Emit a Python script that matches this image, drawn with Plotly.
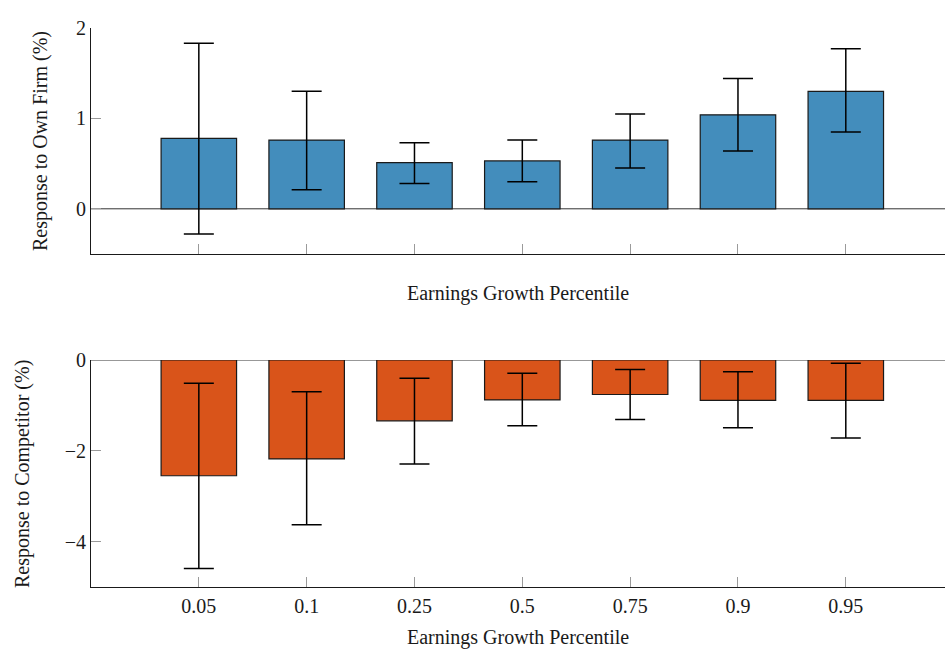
import plotly.graph_objects as go
from plotly.subplots import make_subplots

percentiles = ["0.05", "0.1", "0.25", "0.5", "0.75", "0.9", "0.95"]

own_firm = [0.78, 0.76, 0.51, 0.53, 0.76, 1.04, 1.30]
own_firm_hi = [1.83, 1.30, 0.73, 0.76, 1.05, 1.44, 1.77]
own_firm_lo = [-0.28, 0.21, 0.28, 0.30, 0.45, 0.64, 0.85]

competitor = [-2.55, -2.18, -1.34, -0.88, -0.76, -0.89, -0.89]
competitor_hi = [-0.51, -0.70, -0.40, -0.29, -0.21, -0.26, -0.07]
competitor_lo = [-4.59, -3.63, -2.29, -1.45, -1.31, -1.49, -1.72]

BLUE = "#438dbc"
ORANGE = "#d9541a"
FONT = "Liberation Serif"

W, H = 945, 653
L, R, T, B = 91, 0, 28, 66
plot_h = H - T - B


def py(pix):
    # pixel row -> paper fraction
    return (H - B - pix) / plot_h


fig = make_subplots(rows=2, cols=1, vertical_spacing=0.0)


def add_panel(row, vals, hi, lo, color):
    fig.add_trace(
        go.Bar(
            x=percentiles,
            y=vals,
            width=0.7,
            marker=dict(color=color, line=dict(color="#1a1a1a", width=1.2)),
            error_y=dict(
                type="data",
                symmetric=False,
                array=[h - v for h, v in zip(hi, vals)],
                arrayminus=[v - l for v, l in zip(vals, lo)],
                color="black",
                thickness=1.5,
                width=15,
            ),
            showlegend=False,
        ),
        row=row,
        col=1,
    )


add_panel(1, own_firm, own_firm_hi, own_firm_lo, BLUE)
add_panel(2, competitor, competitor_hi, competitor_lo, ORANGE)

axis_common = dict(
    showgrid=False,
    zeroline=False,
    showline=True,
    linecolor="#1a1a1a",
    linewidth=1,
    ticks="inside",
    ticklen=10,
    tickcolor="#9a9a9a",
    tickwidth=1,
    tickfont=dict(family=FONT, size=20, color="#1a1a1a"),
)

fig.update_xaxes(
    **axis_common,
    type="category",
    range=[-1, 6.92],
    mirror=False,
    ticklabelstandoff=1,
)
fig.update_xaxes(showticklabels=False, row=1, col=1)

fig.update_yaxes(**axis_common, mirror=False)
fig.update_yaxes(range=[-0.5, 2], tickvals=[0, 1, 2], domain=[py(254), 1], row=1, col=1)
fig.update_yaxes(range=[-5, 0], tickvals=[-4, -2, 0], domain=[0, py(360)], row=2, col=1)

# zero reference lines across each panel
for yref in ("y", "y2"):
    fig.add_shape(
        type="line",
        xref="paper",
        x0=0,
        x1=1,
        yref=yref,
        y0=0,
        y1=0,
        line=dict(color="#333333", width=1),
        layer="below",
    )

title_font = dict(family=FONT, size=20, color="#1a1a1a")

for text, ypix in [
    ("Earnings Growth Percentile", 293),
    ("Earnings Growth Percentile", 637),
]:
    fig.add_annotation(
        text=text, xref="paper", yref="paper", x=0.5, y=py(ypix),
        xanchor="center", yanchor="middle", showarrow=False, font=title_font,
    )

for text, xpix, ypix in [
    ("Response to Own Firm (%)", 40, 141),
    ("Response to Competitor (%)", 22, 474),
]:
    fig.add_annotation(
        text=text, xref="paper", yref="paper",
        x=(xpix - L) / (W - L - R), y=py(ypix),
        xanchor="center", yanchor="middle", textangle=-90,
        showarrow=False, font=title_font,
    )

fig.update_layout(
    width=W,
    height=H,
    margin=dict(l=L, r=R, t=T, b=B),
    plot_bgcolor="white",
    paper_bgcolor="white",
    bargap=0.3,
    font=dict(family=FONT, color="#1a1a1a"),
)

fig.write_html("out.html")
